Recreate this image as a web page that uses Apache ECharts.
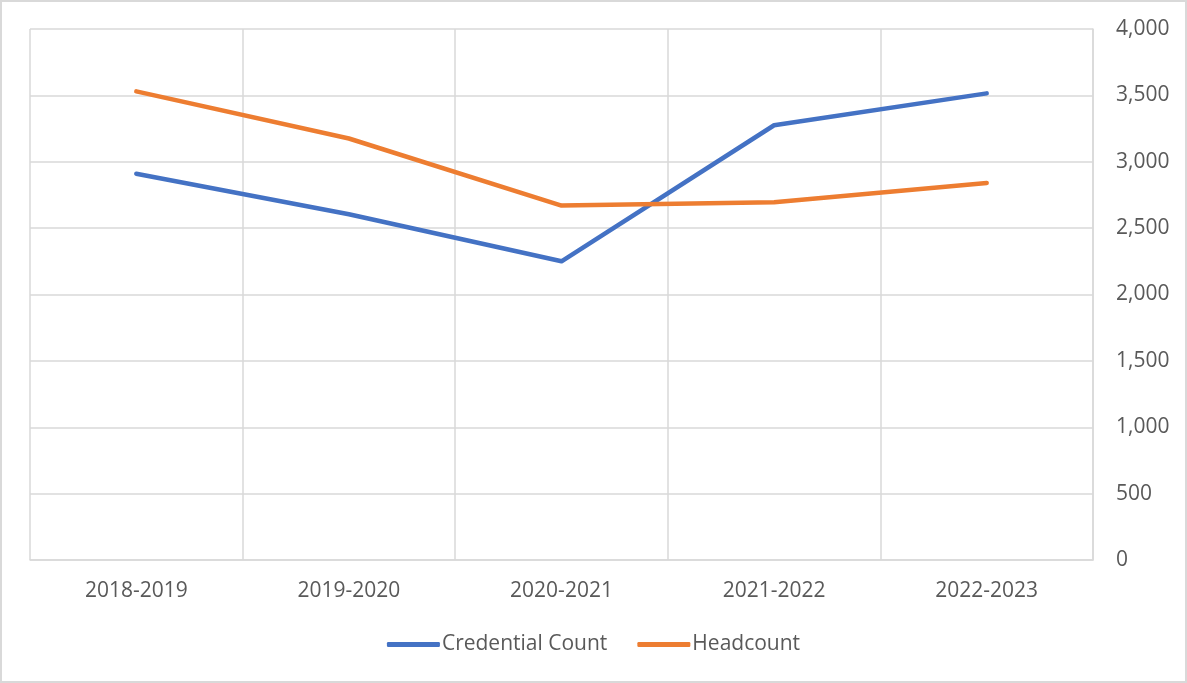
<!DOCTYPE html>
<html>
<head>
<meta charset="utf-8">
<script src="https://cdn.jsdelivr.net/npm/echarts@6/dist/echarts.min.js"></script>
<style>
  html, body { margin: 0; padding: 0; background: #fff; }
  #chart { width: 1187px; height: 683px; box-sizing: border-box; border: 2px solid #d9d9d9; }
</style>
</head>
<body>
<div id="chart"></div>
<script>
// school years on the x axis
const years = ['2018-2019', '2019-2020', '2020-2021', '2021-2022', '2022-2023']
// series values
const credentialCount = [2910, 2605, 2250, 3275, 3515]
const headcount = [3530, 3175, 2670, 2695, 2840]
const seriesNames = ['Credential Count', 'Headcount']

const chart = echarts.init(document.getElementById('chart'))
const fontFamily = '"Open Sans", sans-serif'

chart.setOption({
  animation: false,
  grid: {
    left: 28,
    right: 92,
    top: 27,
    bottom: 121
  },
  legend: {
    data: seriesNames,
    bottom: 21,
    left: 'center',
    icon: 'roundRect',
    itemWidth: 53,
    itemHeight: 5,
    itemGap: 30,
    textStyle: {
      color: '#595959',
      fontSize: 21,
      fontFamily: fontFamily,
      padding: [0, 0, 0, -3]
    }
  },
  xAxis: {
    type: 'category',
    data: years,
    boundaryGap: true,
    axisLine: { lineStyle: { color: '#d9d9d9', width: 1.5 } },
    axisTick: { show: false },
    axisLabel: {
      color: '#595959',
      fontSize: 21,
      fontFamily: fontFamily,
      margin: 21
    },
    splitLine: { show: true, lineStyle: { color: '#d9d9d9', width: 1.5 } }
  },
  yAxis: {
    type: 'value',
    position: 'right',
    min: 0,
    max: 4000,
    interval: 500,
    axisLine: { show: true, lineStyle: { color: '#d9d9d9', width: 1.5 } },
    axisTick: { show: false },
    axisLabel: {
      color: '#595959',
      fontSize: 21,
      fontFamily: fontFamily,
      margin: 23,
      formatter: v => v.toLocaleString('en-US')
    },
    splitLine: { lineStyle: { color: '#d9d9d9', width: 1.5 } }
  },
  series: [
    {
      name: seriesNames[0],
      type: 'line',
      data: credentialCount,
      symbol: 'none',
      itemStyle: { color: '#4472c4' },
      lineStyle: { color: '#4472c4', width: 4.5, cap: 'round', join: 'round' }
    },
    {
      name: seriesNames[1],
      type: 'line',
      data: headcount,
      symbol: 'none',
      itemStyle: { color: '#ed7d31' },
      lineStyle: { color: '#ed7d31', width: 4.5, cap: 'round', join: 'round' }
    }
  ]
})
</script>
</body>
</html>
